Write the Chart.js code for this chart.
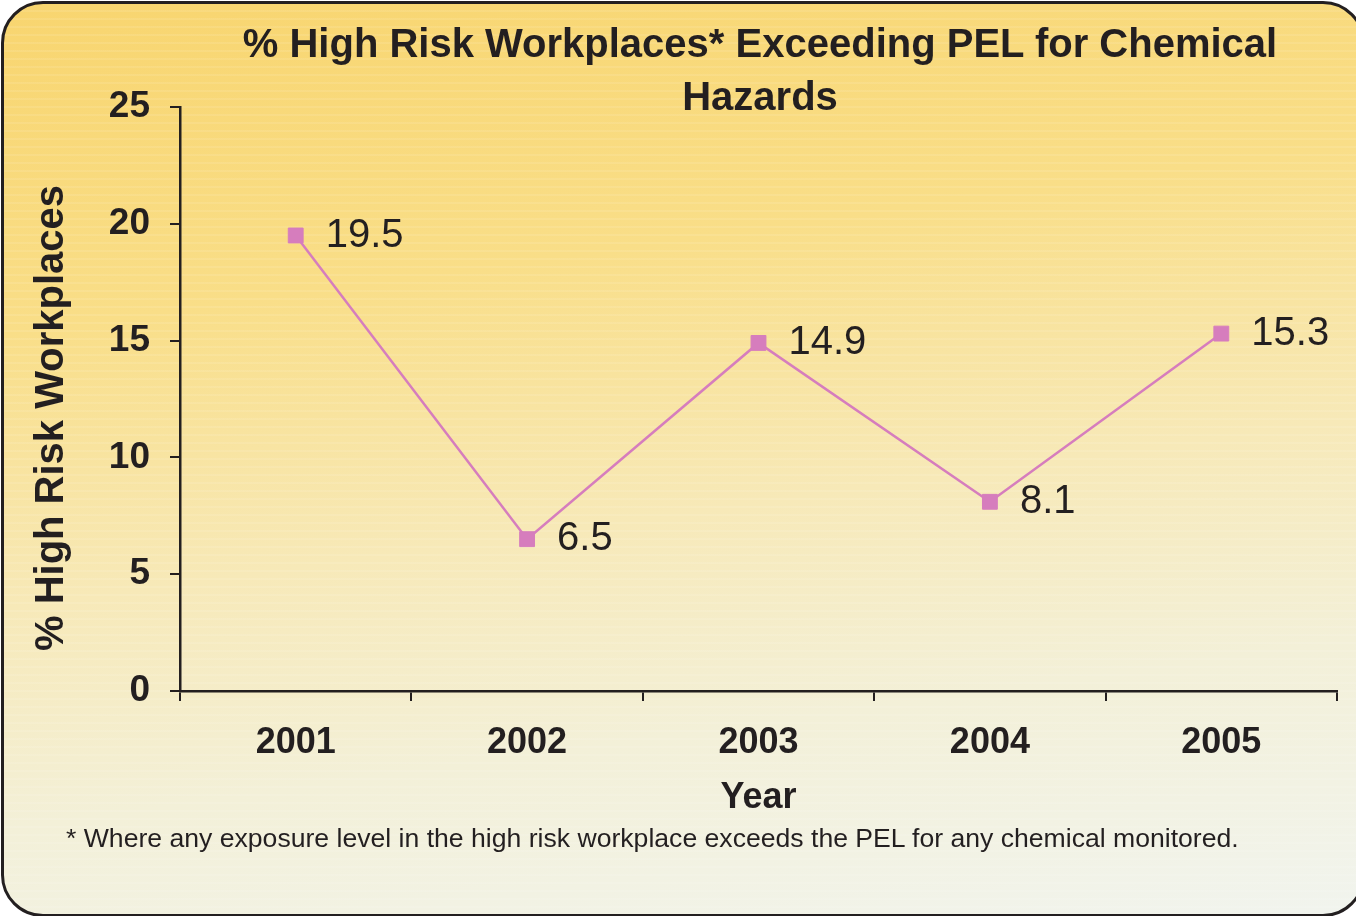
<!DOCTYPE html>
<html lang="en">
<head>
    <meta charset="UTF-8">
    <title>% High Risk Workplaces Exceeding PEL</title>
    <style>
        html, body { margin: 0; padding: 0; }
        body { width: 1356px; height: 916px; overflow: hidden; position: relative; background: #fff;
               font-family: "Liberation Sans", Arial, sans-serif; }
        #panel {
            position: absolute; left: 1px; top: 1px; width: 1358px; height: 910px;
            border: 3px solid #231f20; border-radius: 42px;
            background:
                repeating-linear-gradient(180deg, rgba(255,255,255,0) 0px, rgba(255,255,255,0) 6px, rgba(255,255,255,0.18) 7px, rgba(255,255,255,0) 8px),
                linear-gradient(172deg, #f8d56f 0%, #f9de88 30%, #f7e9b8 55%, #f3f0d8 75%, #f1f4ee 100%);
        }
        #title {
            position: absolute; left: 164px; width: 1192px; top: 17px;
            text-align: center; font-weight: bold; font-size: 40px; line-height: 53px; color: #231f20;
        }
        #note {
            position: absolute; left: 66px; top: 823px;
            font-size: 26.6px; color: #231f20; white-space: nowrap;
        }
        #wrap { position: absolute; left: 0; top: 0; width: 1356px; height: 916px; }
    </style>
</head>
<body>
    <div id="panel"></div>
    <div id="wrap"><canvas id="chemChart"></canvas></div>
    <div id="title">% High Risk Workplaces* Exceeding PEL for Chemical<br>Hazards</div>
    <div id="note">* Where any exposure level in the high risk workplace exceeds the PEL for any chemical monitored.</div>

    <script src="https://cdn.jsdelivr.net/npm/chart.js"></script>
    <script>
        // data
        const years = ['2001', '2002', '2003', '2004', '2005'];
        const pctExceeding = [19.5, 6.5, 14.9, 8.1, 15.3];
        const yTicks = [0, 5, 10, 15, 20, 25];
        const yTitle = '% High Risk Workplaces';

        const ink = '#231f20';
        const pink = '#d67dbd';
        const fontFam = '"Liberation Sans", Arial, sans-serif';

        // value labels next to points + y axis title (sits a bit below centre in the original)
        const extras = {
            id: 'extras',
            afterDatasetsDraw(chart) {
                const ctx = chart.ctx;
                const meta = chart.getDatasetMeta(0);
                ctx.save();
                ctx.font = '40px ' + fontFam;
                ctx.fillStyle = ink;
                ctx.textAlign = 'left';
                ctx.textBaseline = 'middle';
                meta.data.forEach(function(pt, i) {
                    ctx.fillText(String(pctExceeding[i]), pt.x + 30, pt.y);
                });
                ctx.restore();

                const area = chart.chartArea;
                ctx.save();
                ctx.translate(52, (area.top + area.bottom) / 2 + 19);
                ctx.rotate(-Math.PI / 2);
                ctx.font = 'bold 40px ' + fontFam;
                ctx.fillStyle = ink;
                ctx.textAlign = 'center';
                ctx.textBaseline = 'middle';
                ctx.fillText(yTitle, 0, 0);
                ctx.restore();
            }
        };

        new Chart(document.getElementById('chemChart'), {
            type: 'line',
            data: {
                labels: years,
                datasets: [{
                    data: pctExceeding,
                    borderColor: pink,
                    borderWidth: 2.5,
                    pointStyle: 'rect',
                    pointRadius: 10.5,
                    pointBackgroundColor: pink,
                    pointBorderColor: pink,
                    pointBorderWidth: 1,
                    tension: 0
                }]
            },
            options: {
                responsive: true,
                maintainAspectRatio: false,
                animation: false,
                layout: { padding: { left: 0, top: 107, right: 19, bottom: 95 } },
                plugins: {
                    legend: { display: false },
                    tooltip: { enabled: false },
                    title: { display: false }
                },
                scales: {
                    x: {
                        offset: true,
                        grid: { offset: true, drawOnChartArea: false, drawTicks: true, tickLength: 10, color: ink, lineWidth: 2 },
                        border: { color: ink, width: 2.5 },
                        ticks: { color: ink, padding: 20, font: { family: fontFam, size: 36, weight: 'bold' } },
                        title: { display: true, text: 'Year', color: ink, padding: { top: 0, bottom: 1 },
                                 font: { family: fontFam, size: 36, weight: 'bold' } },
                        afterFit(scale) { scale.height = 130; }
                    },
                    y: {
                        min: 0,
                        max: 25,
                        afterBuildTicks(scale) { scale.ticks = yTicks.map(v => ({ value: v })); },
                        grid: { drawOnChartArea: false, drawTicks: true, tickLength: 10, color: ink, lineWidth: 2 },
                        border: { color: ink, width: 2.5 },
                        ticks: { color: ink, padding: 20, font: { family: fontFam, size: 37, weight: 'bold' } },
                        title: { display: false },
                        afterFit(scale) { scale.width = 180; }
                    }
                }
            },
            plugins: [extras]
        });
    </script>
</body>
</html>
